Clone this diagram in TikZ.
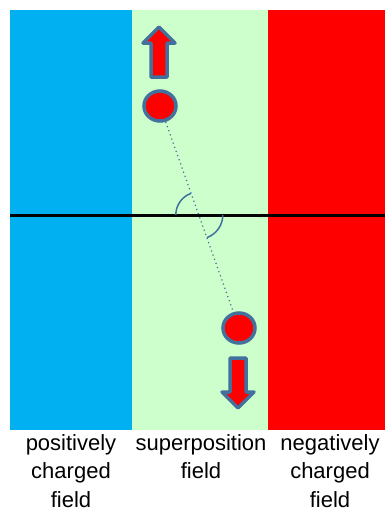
\documentclass[tikz,border=0pt]{standalone}
\usepackage{fontspec}
\setmainfont{Liberation Sans}
\usetikzlibrary{calc,shapes.geometric}

\definecolor{Cposblue}{HTML}{00B0F0}
\definecolor{Csupgreen}{HTML}{CCFFCC}
\definecolor{Cnegred}{HTML}{FF0000}
\definecolor{Cedgeblue}{HTML}{41719C}

\tikzset{
  ball/.style={ellipse,draw=Cedgeblue,fill=Cnegred,line width=3.5pt,minimum width=32pt,minimum height=30pt,inner sep=0pt},
  fieldname/.style={anchor=north,align=center,inner sep=0pt,font=\fontsize{22}{28.5}\selectfont},
  arrowbody/.style={draw=Cedgeblue,fill=Cnegred,line width=3.5pt,line join=round}
}

\begin{document}
\begin{tikzpicture}[x=1pt,y=-1pt]
			\useasboundingbox (0,0) rectangle (385,512);
			\fill[Cposblue] (10,10) rectangle (132,430);
			\fill[Csupgreen] (132,10) rectangle (268,430);
			\fill[Cnegred] (268,10) rectangle (385,430);
			\draw[black,line width=3pt] (10,215)--(385,215);
			% the two charges
			\node[ball] (ballA) at (160,106) {};
			\node[ball] (ballB) at (239,328) {};
			\draw[Cedgeblue,line width=1.2pt,dash pattern=on 1.2pt off 3.2pt]
			(ballA)--(ballB);
			\coordinate (cross) at ($(ballA)!0.491!(ballB)$);
			\draw[Cedgeblue,line width=1.5pt] ([xshift=-23pt]cross) arc[start angle=180,end angle=250,radius=23];
			\draw[Cedgeblue,line width=1.5pt] ([xshift=24pt]cross) arc[start angle=0,end angle=70,radius=24];
			% arrows
			\draw[arrowbody] (159,27)--(175,43)--(167,43)--(167,77)--(151,77)--(151,43)--(143,43)--cycle;
			\draw[arrowbody] (238,408)--(254,392)--(246,392)--(246,358)--(230,358)--(230,392)--(222,392)--cycle;
			% labels
			\node[fieldname] (posname) at (71,434) {positively\\charged\\field};
			\node[fieldname] (supname) at (201,434) {superposition\\field};
			\node[fieldname] (negname) at (330,434) {negatively\\charged\\field};
		\end{tikzpicture}
\end{document}
